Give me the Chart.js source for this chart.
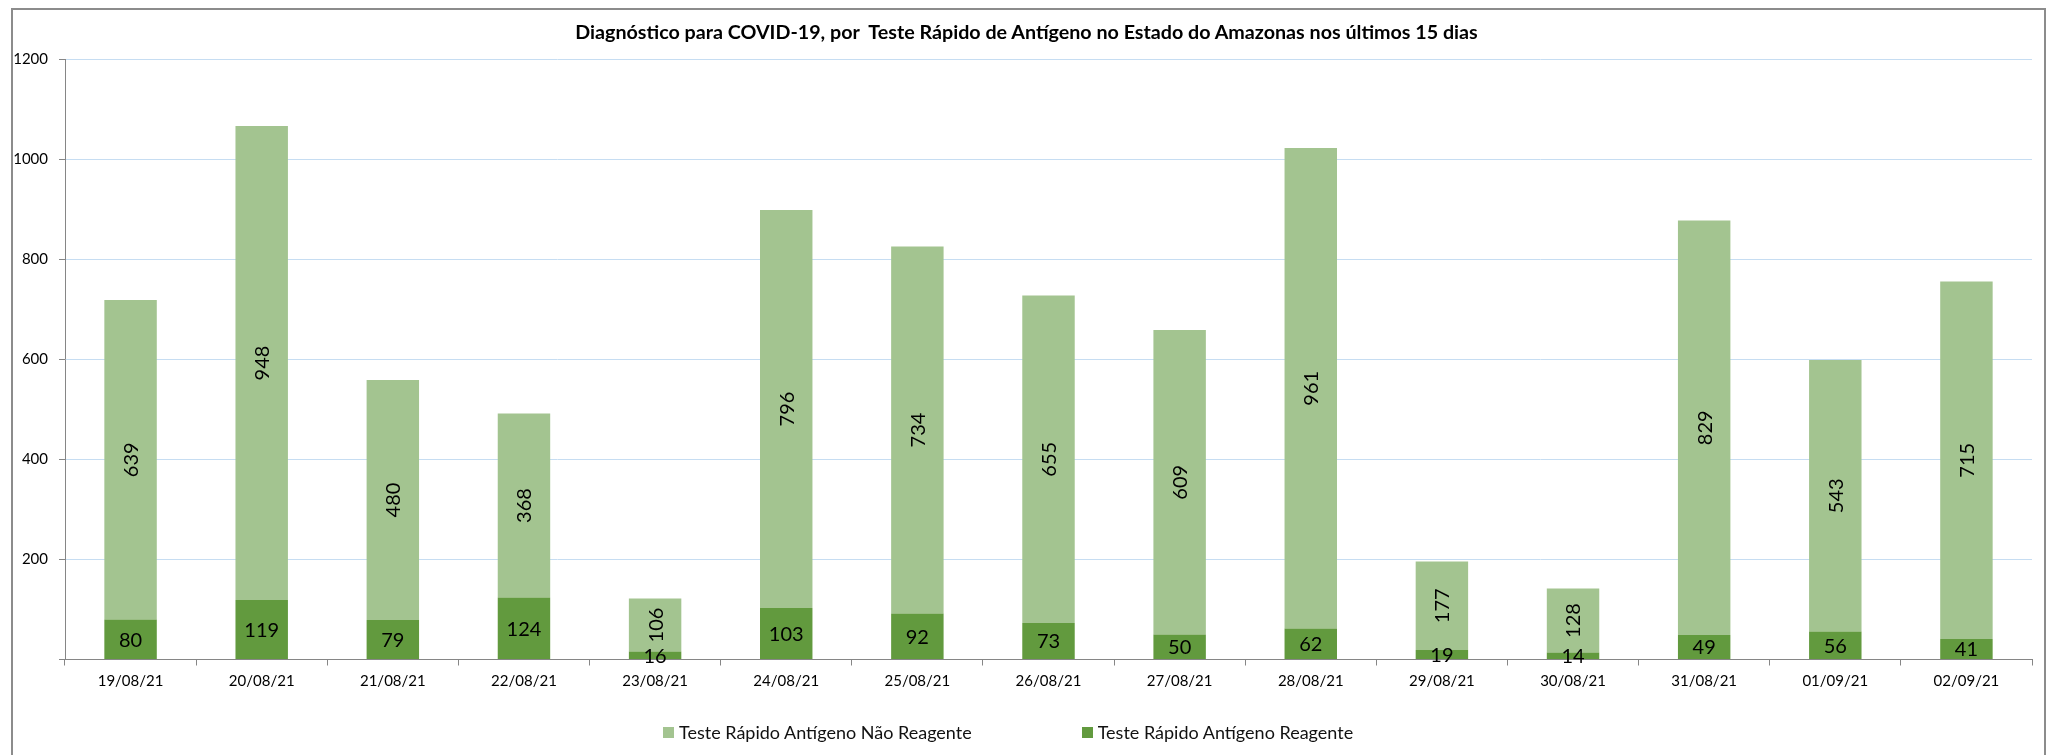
<!DOCTYPE html>
<html>
<head>
<meta charset="utf-8">
<script src="https://cdn.jsdelivr.net/npm/chart.js@4.4.0/dist/chart.umd.min.js"></script>
<style>
  body { margin: 0; background: #fff; width: 2053px; height: 755px; overflow: hidden; position: relative; font-family: Lato, sans-serif; }
  canvas { position: absolute; left: 0; top: 0; }
  #frame { position: absolute; left: 11px; top: 8px; width: 2031px; height: 800px; border: 2px solid #8c8c8c; pointer-events: none; }
  #title { position: absolute; left: 0; top: 20px; width: 2053px; text-align: center; font-size: 19.7px; line-height: 24px; font-weight: bold; color: #000; white-space: pre; }
  #legend { position: absolute; left: 663px; top: 721px; display: flex; font-size: 18px; line-height: 22px; color: #111; }
  .item { display: flex; align-items: center; margin-right: 110px; }
  .box { width: 11px; height: 11px; margin-right: 5px; }
</style>
</head>
<body>
<canvas id="chart" width="2053" height="755"></canvas>
<div id="frame"></div>
<div id="title">Diagnóstico para COVID-19, por  Teste Rápido de Antígeno no Estado do Amazonas nos últimos 15 dias</div>
<div id="legend"></div>
<script>
const days = ["19/08/21", "20/08/21", "21/08/21", "22/08/21", "23/08/21", "24/08/21", "25/08/21", "26/08/21",
  "27/08/21", "28/08/21", "29/08/21", "30/08/21", "31/08/21", "01/09/21", "02/09/21"];
const reagente = [80, 119, 79, 124, 16, 103, 92, 73, 50, 62, 19, 14, 49, 56, 41];
const naoReagente = [639, 948, 480, 368, 106, 796, 734, 655, 609, 961, 177, 128, 829, 543, 715];
const yMax = 1200;
const yStep = 200;

const darkGreen = "#629a3e";
const lightGreen = "#a3c490";
const axisGray = "#868686";

// value labels in the middle of each segment (light ones turned on their side)
const barLabels = {
  id: "barLabels",
  afterDatasetsDraw(chart) {
    const ctx = chart.ctx;
    ctx.save();
    ctx.fillStyle = "#000";
    ctx.font = "20px Lato";
    ctx.textAlign = "center";
    ctx.textBaseline = "middle";
    chart.data.datasets.forEach((ds, i) => {
      chart.getDatasetMeta(i).data.forEach((bar, j) => {
        const { x, y, base } = bar.getProps(["x", "y", "base"], true);
        ctx.save();
        ctx.translate(x, (y + base) / 2);
        if (ds.rotateLabel) ctx.rotate(-Math.PI / 2);
        ctx.fillText(ds.data[j], 0, 1);
        ctx.restore();
      });
    });
    ctx.restore();
  }
};

const chart = new Chart(document.getElementById("chart"), {
  type: "bar",
  data: {
    labels: days,
    datasets: [
      { label: "Teste Rápido Antígeno Reagente", data: reagente, backgroundColor: darkGreen },
      { label: "Teste Rápido Antígeno Não Reagente", data: naoReagente, backgroundColor: lightGreen, rotateLabel: true }
    ]
  },
  options: {
    responsive: false,
    animation: false,
    barPercentage: 0.4,
    categoryPercentage: 1.0,
    layout: { padding: { left: 0, right: 21, top: 59.5, bottom: 55.5 } },
    plugins: {
      legend: { display: false },
      tooltip: { enabled: false }
    },
    scales: {
      x: {
        stacked: true,
        afterFit: (scale) => { scale.height = 40; },
        grid: { drawOnChartArea: false, tickLength: 6, tickColor: axisGray, offset: true },
        border: { color: axisGray, width: 1 },
        ticks: { color: "#000", padding: 7, maxRotation: 0, font: { family: "Lato", size: 15 } }
      },
      y: {
        stacked: true,
        min: 0,
        max: yMax,
        afterFit: (scale) => { scale.width = 65; },
        grid: { color: "#c6ddf2", tickColor: axisGray, tickLength: 6 },
        border: { color: axisGray, width: 1 },
        ticks: {
          stepSize: yStep,
          color: "#000",
          padding: 11,
          font: { family: "Lato", size: 15 },
          callback: (v) => (v === 0 ? "" : v)
        }
      }
    }
  },
  plugins: [barLabels]
});

// legend below the plot, light series first
const legend = document.getElementById("legend");
chart.data.datasets.slice().reverse().forEach((ds) => {
  const item = document.createElement("div");
  item.className = "item";
  item.innerHTML = '<span class="box" style="background:' + ds.backgroundColor + '"></span>' + ds.label;
  legend.appendChild(item);
});
</script>
</body>
</html>
